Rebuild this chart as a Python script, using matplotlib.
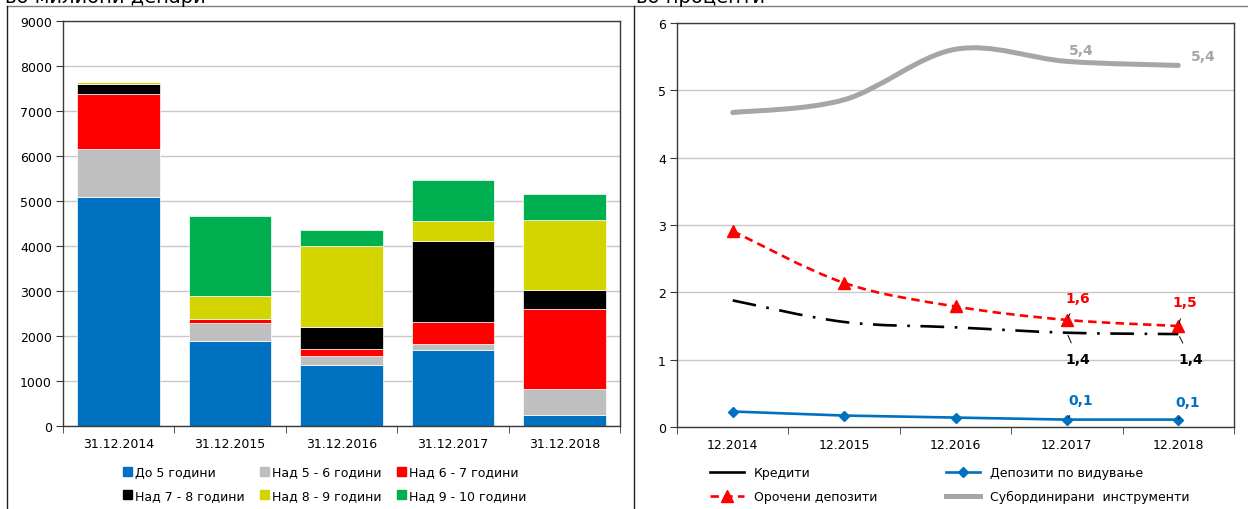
import numpy as np
import matplotlib
matplotlib.use('Agg')
import matplotlib.pyplot as plt
from matplotlib.path import Path
from matplotlib.patches import PathPatch, Patch
from matplotlib.lines import Line2D

# left chart: maturity structure, millions of denars
bar_dates = ['31.12.2014', '31.12.2015', '31.12.2016', '31.12.2017', '31.12.2018']
bucket_names = ['До 5 години', 'Над 5 - 6 години', 'Над 6 - 7 години',
                'Над 7 - 8 години', 'Над 8 - 9 години', 'Над 9 - 10 години']
bucket_colors = ['#0070C0', '#BFBFBF', '#FF0000', '#000000', '#D4D400', '#00B050']
upto_5 = [5090, 1890, 1355, 1690, 250]
over_5_6 = [1055, 405, 200, 140, 570]
over_6_7 = [1230, 80, 165, 490, 1785]
over_7_8 = [220, 0, 490, 1790, 425]
over_8_9 = [45, 505, 1790, 445, 1550]
over_9_10 = [0, 1790, 355, 920, 565]

# right chart: interest rates, percent
rate_dates = ['12.2014', '12.2015', '12.2016', '12.2017', '12.2018']
loans = [1.88, 1.56, 1.48, 1.40, 1.38]
demand_deposits = [0.23, 0.17, 0.14, 0.11, 0.11]
time_deposits = [2.91, 2.14, 1.79, 1.59, 1.50]
subordinated = [4.67, 4.86, 5.61, 5.43, 5.37]

plt.rcParams['font.family'] = ['DejaVu Sans']
plt.rcParams['font.size'] = 9

SPINE = '#3A3A3A'
GRID = '#C8C8C8'


def smooth_path(xs, ys):
    # bezier through the points, same idea as the spreadsheet "smoothed line"
    pts = list(zip(xs, ys))
    n = len(pts)
    verts = [pts[0]]
    codes = [Path.MOVETO]
    for i in range(n - 1):
        p0 = pts[i - 1] if i > 0 else pts[i]
        p1 = pts[i]
        p2 = pts[i + 1]
        p3 = pts[i + 2] if i + 2 < n else pts[i + 1]
        c1 = (p1[0] + (p2[0] - p0[0]) / 6, p1[1] + (p2[1] - p0[1]) / 6)
        c2 = (p2[0] - (p3[0] - p1[0]) / 6, p2[1] - (p3[1] - p1[1]) / 6)
        verts += [c1, c2, p2]
        codes += [Path.CURVE4] * 3
    return Path(verts, codes)


def style_axes(ax, n):
    ax.set_xlim(-0.5, n - 0.5)
    ax.set_xticks(range(n))
    ax.set_xticks(np.arange(n + 1) - 0.5, minor=True)
    ax.tick_params(axis='x', which='major', length=0, pad=8)
    ax.tick_params(axis='x', which='minor', length=5, direction='out', color=SPINE)
    ax.tick_params(axis='y', length=5, direction='out', color=SPINE, pad=3)
    for sp in ax.spines.values():
        sp.set_color(SPINE)
        sp.set_linewidth(1)
    ax.yaxis.grid(True, color=GRID, lw=1)
    ax.set_axisbelow(True)


def plot_bars(ax):
    series = [upto_5, over_5_6, over_6_7, over_7_8, over_8_9, over_9_10]
    x = np.arange(len(bar_dates))
    bottom = np.zeros(len(bar_dates))
    for vals, col in zip(series, bucket_colors):
        ax.bar(x, vals, 0.74, bottom=bottom, color=col, edgecolor='white', lw=0.5)
        bottom += np.array(vals)
    style_axes(ax, len(bar_dates))
    ax.set_xticklabels(bar_dates)
    ax.set_ylim(0, 9000)
    ax.set_yticks(range(0, 9001, 1000))

    handles = [Patch(color=c) for c in bucket_colors]
    order = [0, 3, 1, 4, 2, 5]
    ax.legend([handles[i] for i in order], [bucket_names[i] for i in order],
              ncol=3, frameon=False, loc='center', bbox_to_anchor=(0.47, -0.143),
              handlelength=0.7, handleheight=0.7, handletextpad=0.3,
              columnspacing=1.2, labelspacing=0.85)


def label(ax, x, y, txt, color, dx, dy, leader=True):
    arrow = dict(arrowstyle='-', color='black', lw=0.7, shrinkA=5, shrinkB=2) if leader else None
    ax.annotate(txt, (x, y), xytext=(dx, dy), textcoords='offset points',
                ha='center', va='center', color=color, fontweight='bold',
                fontsize=10, arrowprops=arrow)


def fmt(v):
    return f'{v:.1f}'.replace('.', ',')


def plot_rates(ax):
    x = np.arange(len(rate_dates))
    gray = '#A6A6A6'
    blue = '#0070C0'

    ax.add_patch(PathPatch(smooth_path(x, subordinated), fill=False,
                           edgecolor=gray, lw=3.6, capstyle='round'))
    ax.add_patch(PathPatch(smooth_path(x, loans), fill=False, edgecolor='black',
                           lw=1.9, linestyle=(0, (9, 4, 1, 4))))
    ax.add_patch(PathPatch(smooth_path(x, time_deposits), fill=False,
                           edgecolor='#FF0000', lw=1.9, linestyle=(0, (3.2, 2))))
    ax.plot(x, time_deposits, ls='none', marker='^', ms=8, color='#FF0000')
    ax.plot(x, demand_deposits, color=blue, lw=1.9, marker='D', ms=5.5)

    style_axes(ax, len(rate_dates))
    ax.set_xticklabels(rate_dates)
    ax.set_ylim(0, 6)
    ax.set_yticks(range(0, 7))

    label(ax, 3, subordinated[3], fmt(subordinated[3]), gray, 10, 8, leader=False)
    label(ax, 4, subordinated[4], fmt(subordinated[4]), gray, 18, 7, leader=False)
    label(ax, 3, time_deposits[3], fmt(time_deposits[3]), '#FF0000', 8, 16)
    label(ax, 4, time_deposits[4], fmt(time_deposits[4]), '#FF0000', 5, 17)
    label(ax, 3, loans[3], fmt(loans[3]), 'black', 8, -19)
    label(ax, 4, loans[4], fmt(loans[4]), 'black', 9, -18)
    label(ax, 3, demand_deposits[3], fmt(demand_deposits[3]), blue, 10, 14)
    label(ax, 4, demand_deposits[4], fmt(demand_deposits[4]), blue, 7, 13)

    handles = [
        Line2D([], [], color='black', lw=1.9),
        Line2D([], [], color='#FF0000', lw=1.9, ls=(0, (3.2, 2)), marker='^', ms=8),
        Line2D([], [], color=blue, lw=1.9, marker='D', ms=5.5),
        Line2D([], [], color=gray, lw=3.6),
    ]
    names = ['Кредити', 'Орочени депозити', 'Депозити по видување',
             'Субординирани  инструменти']
    ax.legend(handles, names, ncol=2, frameon=False, loc='center',
              bbox_to_anchor=(0.49, -0.143), handlelength=2.7, handletextpad=0.8,
              columnspacing=5.5, labelspacing=0.85)


def draw_frames(fig):
    top = 1 - 7 / 510
    x0 = 7 / 1248
    xm = 634 / 1248
    for xs, ys, col in [([x0, 1], [top, top], '#7F7F7F'),
                        ([x0, x0], [0, top], '#202020'),
                        ([xm, xm], [0, top], '#202020')]:
        fig.add_artist(Line2D(xs, ys, transform=fig.transFigure, color=col, lw=1))
    # titles are cut by the top edge in the original
    fig.text(5 / 1248, 1 - 3 / 510, 'во милиони денари', fontsize=14, va='baseline')
    fig.text(636 / 1248, 1 - 3 / 510, 'во проценти', fontsize=14, va='baseline')


if __name__ == '__main__':
    fig = plt.figure(figsize=(12.48, 5.10), dpi=100)
    ax_left = fig.add_axes([63 / 1248, 83 / 510, 557 / 1248, 405 / 510])
    ax_right = fig.add_axes([677 / 1248, 82 / 510, 557 / 1248, 404 / 510])
    plot_bars(ax_left)
    plot_rates(ax_right)
    draw_frames(fig)
    fig.savefig('out.png', dpi=100)
    print('saved out.png')
